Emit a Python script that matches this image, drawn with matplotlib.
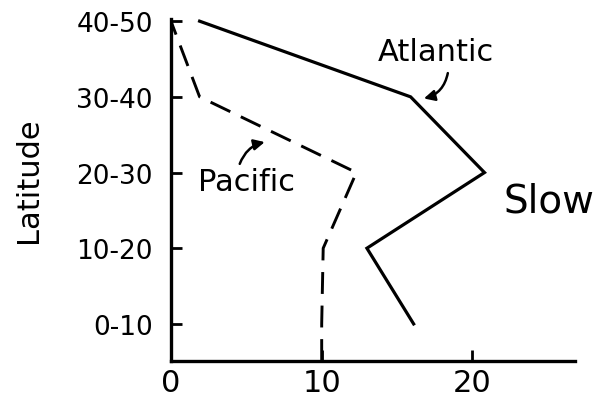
import matplotlib
matplotlib.use("Agg")
import matplotlib.pyplot as plt

lat_bands = ["0-10", "10-20", "20-30", "30-40", "40-50"]
atlantic = [16.1, 13.0, 20.8, 15.9, 1.9]
pacific = [10.0, 10.1, 12.3, 1.9, 0.0]
xticks = [10, 20]
xticklabels = ["0", "10", "20"]

plt.rcParams['font.family'] = ['DejaVu Sans']

fig = plt.figure(figsize=(6.02, 4.02), dpi=100)
ax = fig.add_axes([0.284, 0.0995, 0.671, 0.851])

pos = list(range(len(lat_bands)))
ax.plot(atlantic, pos, color='black', lw=2.3, solid_joinstyle='miter')
# pacific line runs down to the x axis below the lowest band
ax.plot([pacific[0]] + pacific, [-0.49] + pos, color='black', lw=2.1,
        dashes=(7.5, 4), dash_capstyle='butt')

ax.set_xlim(0, 26.8)
ax.set_ylim(-0.49, 4.03)

for s in ['top', 'right']:
    ax.spines[s].set_visible(False)
for s in ['left', 'bottom']:
    ax.spines[s].set_linewidth(2.4)

ax.set_yticks(pos)
ax.set_yticklabels(lat_bands, fontsize=19)
ax.set_xticks([0] + xticks)
ax.set_xticklabels(xticklabels, fontsize=22)
ax.tick_params(axis='y', direction='in', length=8, width=2, pad=13)
ax.tick_params(axis='x', direction='in', length=8, width=2, pad=5)
ax.xaxis.get_major_ticks()[0].tick1line.set_visible(False)

ax.set_ylabel("Latitude", fontsize=22)
ax.yaxis.set_label_coords(-0.318, 0.53)

ax.text(17.6, 3.6, "Atlantic", fontsize=22, ha='center', va='center')
ax.annotate("", xy=(16.6, 2.97), xytext=(18.4, 3.35),
            arrowprops=dict(arrowstyle='-|>', color='black', lw=1.8,
                            mutation_scale=16,
                            connectionstyle='arc3,rad=-0.35'))

ax.text(5.0, 1.88, "Pacific", fontsize=22, ha='center', va='center')
ax.annotate("", xy=(6.4, 2.41), xytext=(4.5, 2.08),
            arrowprops=dict(arrowstyle='-|>', color='black', lw=1.8,
                            mutation_scale=16,
                            connectionstyle='arc3,rad=-0.3'))

ax.text(25.1, 1.63, "Slow", fontsize=28, ha='center', va='center')

fig.savefig("out.png", dpi=100)
